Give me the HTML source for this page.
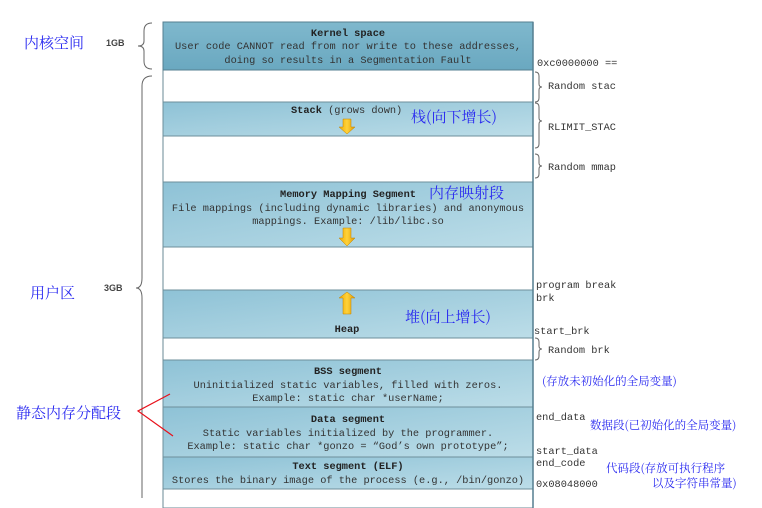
<!DOCTYPE html>
<html><head><meta charset="utf-8"><style>
html,body{margin:0;padding:0;background:#fff;}
svg{display:block;}
.m{font-family:"Liberation Mono",monospace;font-size:10.3px;fill:#333;}
.b{font-weight:bold;fill:#222;}
.s{font-family:"Liberation Sans",sans-serif;font-size:9px;fill:#333;}
.c{font-family:"Noto Serif CJK SC","Noto Sans CJK SC",serif;fill:#2a2af0;}
</style></head><body>
<svg width="762" height="508" viewBox="0 0 762 508" xmlns="http://www.w3.org/2000/svg">
<defs>
<linearGradient id="g" x1="0" y1="0" x2="1" y2="1">
<stop offset="0" stop-color="#8ec2d6"/><stop offset="1" stop-color="#bcdde8"/></linearGradient>
<linearGradient id="k" x1="0" y1="0" x2="0" y2="1">
<stop offset="0" stop-color="#7fb8cd"/><stop offset="1" stop-color="#6aa8c0"/></linearGradient>
<linearGradient id="ar" x1="0" y1="0" x2="1" y2="0">
<stop offset="0" stop-color="#f0a800"/><stop offset="0.5" stop-color="#ffd23a"/><stop offset="1" stop-color="#e09a00"/></linearGradient>
</defs>
<!-- column -->
<rect x="163" y="22" width="370" height="486" fill="#fff" stroke="#6a8a96" stroke-width="1"/>
<rect x="163" y="22" width="370" height="48" fill="url(#k)" stroke="#557f90"/>
<rect x="163" y="102" width="370" height="34" fill="url(#g)" stroke="#6e8f9b"/>
<rect x="163" y="182" width="370" height="65" fill="url(#g)" stroke="#6e8f9b"/>
<rect x="163" y="290" width="370" height="48" fill="url(#g)" stroke="#6e8f9b"/>
<rect x="163" y="360" width="370" height="47" fill="url(#g)" stroke="#6e8f9b"/>
<rect x="163" y="407" width="370" height="50" fill="url(#g)" stroke="#6e8f9b"/>
<rect x="163" y="457" width="370" height="32" fill="url(#g)" stroke="#6e8f9b"/>
<line x1="533" y1="22" x2="533" y2="508" stroke="#557f90" stroke-width="1.5"/>

<text class="m b" x="348" y="36" text-anchor="middle">Kernel space</text>
<text class="m" x="348" y="49" text-anchor="middle">User code CANNOT read from nor write to these addresses,</text>
<text class="m" x="348" y="63" text-anchor="middle">doing so results in a Segmentation Fault</text>

<text class="m" x="291" y="113"><tspan class="b">Stack</tspan> (grows down)</text>
<path d="M343 119h8v8h4l-8 7l-8-7h4z" fill="url(#ar)" stroke="#c08000" stroke-width="0.5"/>

<text class="m b" x="348" y="197" text-anchor="middle">Memory Mapping Segment</text>
<text class="m" x="348" y="211" text-anchor="middle">File mappings (including dynamic libraries) and anonymous</text>
<text class="m" x="348" y="224" text-anchor="middle">mappings. Example: /lib/libc.so</text>
<path d="M343 228h8v10h4l-8 8l-8-8h4z" fill="url(#ar)" stroke="#c08000" stroke-width="0.5"/>

<path d="M347 292l8 6h-4v16h-8v-16h-4z" fill="url(#ar)" stroke="#c08000" stroke-width="0.5"/>
<text class="m b" x="347" y="332" text-anchor="middle">Heap</text>

<text class="m b" x="348" y="374" text-anchor="middle">BSS segment</text>
<text class="m" x="348" y="388" text-anchor="middle">Uninitialized static variables, filled with zeros.</text>
<text class="m" x="348" y="401" text-anchor="middle">Example: static char *userName;</text>

<text class="m b" x="348" y="422" text-anchor="middle">Data segment</text>
<text class="m" x="348" y="436" text-anchor="middle">Static variables initialized by the programmer.</text>
<text class="m" x="348" y="449" text-anchor="middle">Example: static char *gonzo = “God’s own prototype”;</text>

<text class="m b" x="348" y="469" text-anchor="middle">Text segment (ELF)</text>
<text class="m" x="348" y="483" text-anchor="middle">Stores the binary image of the process (e.g., /bin/gonzo)</text>

<!-- left braces -->
<path d="M152 23 q-8 0 -8 8 v10 q0 5 -6 5 q6 0 6 5 v10 q0 8 8 8" fill="none" stroke="#666" stroke-width="1"/>
<path d="M152 76 q-10 0 -10 10 v192 q0 10 -6 10 q6 0 6 10 v200" fill="none" stroke="#666" stroke-width="1"/>
<text class="s b" x="106" y="46" style="font-weight:bold;fill:#444">1GB</text>
<text class="s" x="104" y="291" style="font-weight:bold;fill:#444">3GB</text>

<!-- right braces -->
<path d="M535 72 q4 0 4 4 v8 q0 3 3 3 q-3 0 -3 3 v8 q0 4 -4 4" fill="none" stroke="#666"/>
<path d="M535 103 q4 0 4 4 v11 q0 3 3 3 q-3 0 -3 3 v20 q0 4 -4 4" fill="none" stroke="#666"/>
<path d="M535 154 q4 0 4 4 v5 q0 3 3 3 q-3 0 -3 3 v5 q0 4 -4 4" fill="none" stroke="#666"/>
<path d="M535 338 q4 0 4 4 v4 q0 3 3 3 q-3 0 -3 3 v4 q0 4 -4 4" fill="none" stroke="#666"/>

<text class="m" x="537" y="66">0xc0000000 ==</text>
<text class="m" x="548" y="89">Random stac</text>
<text class="m" x="548" y="130">RLIMIT_STAC</text>
<text class="m" x="548" y="170">Random mmap</text>
<text class="m" x="536" y="288">program break</text>
<text class="m" x="536" y="301">brk</text>
<text class="m" x="534" y="334">start_brk</text>
<text class="m" x="548" y="353">Random brk</text>
<text class="m" x="536" y="420">end_data</text>
<text class="m" x="536" y="454">start_data</text>
<text class="m" x="536" y="466">end_code</text>
<text class="m" x="536" y="487">0x08048000</text>

<!-- chinese annotations -->
<text class="c" x="24" y="48" font-size="15">内核空间</text>
<text class="c" x="30" y="298" font-size="15">用户区</text>
<text class="c" x="16" y="418" font-size="15">静态内存分配段</text>
<text class="c" x="411" y="122" font-size="15">栈(向下增长)</text>
<text class="c" x="429" y="198" font-size="15">内存映射段</text>
<text class="c" x="405" y="322" font-size="15">堆(向上增长)</text>
<text class="c" x="542" y="385" font-size="11.5">(存放未初始化的全局变量)</text>
<text class="c" x="590" y="429" font-size="11.5">数据段(已初始化的全局变量)</text>
<text class="c" x="606" y="472" font-size="11.5">代码段(存放可执行程序</text>
<text class="c" x="652" y="487" font-size="11.5">以及字符串常量)</text>

<path d="M170 394 L138 411 L173 436" fill="none" stroke="#e8101a" stroke-width="1.2"/>
</svg>
</body></html>
